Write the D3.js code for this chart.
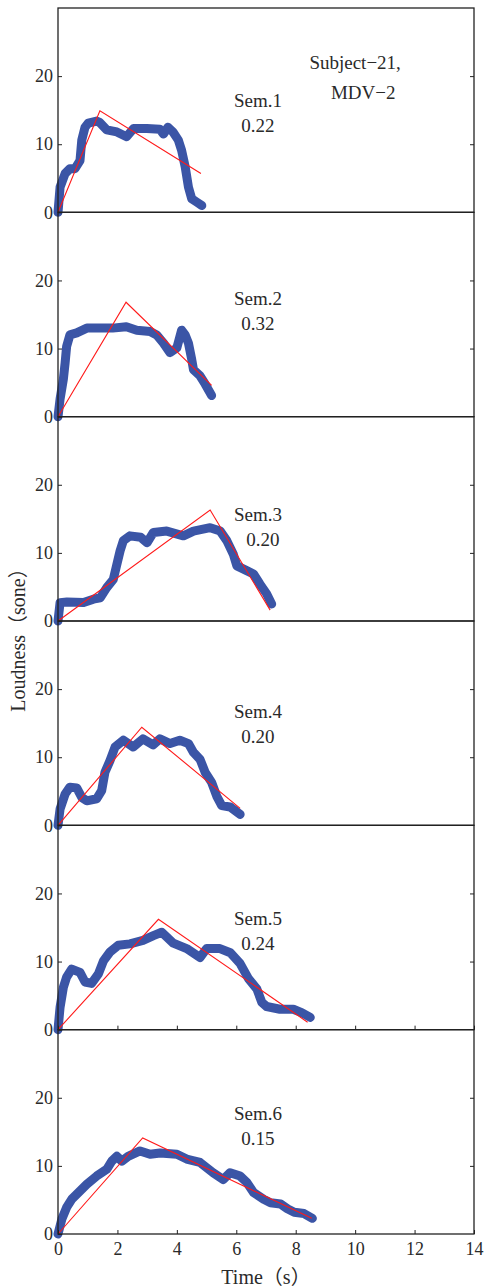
<!DOCTYPE html>
<html>
<head>
<meta charset="utf-8">
<script src="https://cdn.jsdelivr.net/npm/d3@7"></script>
<style>
  body { margin: 0; background: #fff; }
  text { font-family: "Liberation Serif", "Noto Sans CJK SC", serif; fill: #2a2a2a; }
</style>
</head>
<body>
<div id="chart-area"></div>
<script>
// Labels and ticks
var semNames = ["Sem.1", "Sem.2", "Sem.3", "Sem.4", "Sem.5", "Sem.6"];
var semScores = ["0.22", "0.32", "0.20", "0.20", "0.24", "0.15"];
var xTicks = [0, 2, 4, 6, 8, 10, 12, 14];
var yTicks = [0, 10, 20];

// Measured loudness, [time s, sone]
var loud1 = [[0,0],[0.07,3.7],[0.24,5.7],[0.4,6.4],[0.57,6.4],[0.74,7.6],[0.8,10.6],[0.91,12.5],[1.02,13.1],[1.3,13.4],[1.4,13.2],[1.64,12.1],[1.98,11.8],[2.31,11.1],[2.54,12.3],[2.99,12.3],[3.43,12.2],[3.55,11.5],[3.7,12.5],[3.87,11.8],[4.05,10.6],[4.16,9.1],[4.28,6.7],[4.39,3.7],[4.5,2.0],[4.67,1.5],[4.84,1.0]];
var loud2 = [[0,0],[0.07,2.6],[0.18,5.5],[0.24,7.9],[0.29,10.3],[0.4,12.0],[0.63,12.3],[0.97,13.0],[1.4,13.0],[1.84,13.0],[2.3,13.2],[2.65,12.7],[3.1,12.5],[3.32,12.0],[3.55,10.8],[3.77,9.4],[4.0,10.1],[4.16,12.7],[4.28,12.0],[4.39,10.8],[4.5,8.4],[4.56,6.9],[4.78,6.0],[4.95,4.8],[5.17,3.1]];
var loud3 = [[0,0],[0.07,2.7],[0.3,2.8],[0.86,2.7],[1.19,3.2],[1.42,3.4],[1.64,4.9],[1.86,6.1],[1.98,8.3],[2.09,10.3],[2.2,11.8],[2.42,12.5],[2.78,12.3],[3.0,11.5],[3.21,13.0],[3.66,13.2],[4.22,12.5],[4.56,13.2],[5.12,13.7],[5.46,13.2],[5.68,11.8],[5.9,9.8],[6.02,8.1],[6.35,7.4],[6.58,6.9],[6.8,5.4],[7.02,4.0],[7.19,2.5]];
var loud4 = [[0,0],[0.07,2.4],[0.24,4.6],[0.4,5.6],[0.63,5.5],[0.8,4.1],[0.97,3.6],[1.3,3.9],[1.47,5.1],[1.58,7.8],[1.75,9.5],[1.92,11.5],[2.2,12.5],[2.53,11.5],[2.86,12.7],[3.2,11.8],[3.43,12.7],[3.77,12.0],[4.1,12.5],[4.39,12.0],[4.56,10.7],[4.78,9.7],[4.95,7.8],[5.17,6.3],[5.34,4.3],[5.51,2.9],[5.79,2.7],[6.13,1.6]];
var loud5 = [[0,0],[0.07,3.3],[0.18,6.2],[0.29,7.7],[0.46,8.9],[0.74,8.4],[0.91,7.0],[1.13,6.8],[1.36,8.2],[1.53,10.1],[1.75,11.4],[2.03,12.4],[2.42,12.6],[2.86,13.1],[3.21,13.8],[3.49,14.3],[3.66,13.6],[3.88,12.7],[4.33,11.9],[4.78,10.6],[5.0,11.9],[5.45,11.9],[5.8,11.3],[6.13,9.7],[6.41,7.5],[6.69,6.0],[6.86,4.0],[7.02,3.4],[7.47,3.0],[7.92,3.0],[8.2,2.5],[8.49,1.8]];
var loud6 = [[0,0],[0.13,2.2],[0.29,3.9],[0.46,5.1],[0.69,6.1],[0.97,7.3],[1.3,8.5],[1.64,9.5],[1.81,10.7],[1.98,11.4],[2.15,10.7],[2.36,11.4],[2.76,12.2],[3.1,11.7],[3.44,11.9],[4.0,11.7],[4.33,11.0],[4.78,10.5],[5.22,9.0],[5.56,8.0],[5.79,9.0],[6.13,8.5],[6.35,7.6],[6.58,6.1],[6.92,5.1],[7.15,4.6],[7.49,4.4],[7.72,3.7],[7.95,3.2],[8.28,3.0],[8.56,2.3]];

// Triangular fit, [time s, sone]
var fit1 = [[0,0],[1.41,14.9],[4.81,5.7]];
var fit2 = [[0,0],[2.29,16.8],[5.17,4.6]];
var fit3 = [[0,0],[5.12,16.3],[7.14,1.6]];
var fit4 = [[0,0],[2.82,14.4],[6.13,2.5]];
var fit5 = [[0,0],[3.38,16.2],[8.4,1.1]];
var fit6 = [[0,0],[2.85,14.1],[8.54,2.3]];

var loudData = [loud1, loud2, loud3, loud4, loud5, loud6];
var fitData = [fit1, fit2, fit3, fit4, fit5, fit6];

var margin = { left:58, right:11, top:8, bottom:53 },
    W = 485, H = 1287,
    width = W - margin.left - margin.right,
    panelH = (H - margin.top - margin.bottom) / 6;

var svg = d3.select("#chart-area")
    .append("svg")
    .attr("width", W)
    .attr("height", H);

var x = d3.scaleLinear().domain([0, 14]).range([0, width]);
var y = d3.scaleLinear().domain([0, 30]).range([panelH, 0]);

var line = d3.line()
    .x(function(d){ return x(d[0]); })
    .y(function(d){ return y(d[1]); });

// where the Sem label sits in each panel (data units)
var labelY = [16.5, 17.4, 15.7, 16.7, 16.3, 17.7];

loudData.forEach(function(loud, i) {
    var g = svg.append("g")
        .attr("transform", "translate(" + margin.left + "," + (margin.top + i * panelH) + ")");

    g.append("path")
        .attr("d", line(loud))
        .attr("fill", "none")
        .attr("stroke", "#3b55a6")
        .attr("stroke-width", 9)
        .attr("stroke-linejoin", "round")
        .attr("stroke-linecap", "round");

    g.append("path")
        .attr("d", line(fitData[i]))
        .attr("fill", "none")
        .attr("stroke", "#ff1a1a")
        .attr("stroke-width", 1.1);

    // left axis
    var yl = g.append("g")
        .call(d3.axisLeft(y).tickValues(yTicks).tickSizeInner(-4).tickSizeOuter(0).tickPadding(5));
    // right axis, ticks only
    var yr = g.append("g")
        .attr("transform", "translate(" + width + ",0)")
        .call(d3.axisRight(y).tickValues(yTicks.slice(1)).tickSizeInner(-4).tickSizeOuter(0).tickFormat(""));

    if (i >= 4) {
        var xa = g.append("g")
            .attr("transform", "translate(0," + panelH + ")")
            .call(d3.axisBottom(x).tickValues(xTicks).tickSizeInner(-4).tickSizeOuter(0).tickPadding(8)
                .tickFormat(i == 5 ? d3.format("d") : ""));
        xa.select(".domain").remove();
        xa.selectAll("text").attr("font-size", "18px").attr("font-family", null);
        xa.selectAll("line").attr("stroke", "#222");
    }

    [yl, yr].forEach(function(a){
        a.select(".domain").remove();
        a.selectAll("line").attr("stroke", "#222");
        a.selectAll("text").attr("font-size", "18px").attr("font-family", null);
    });

    g.append("rect")
        .attr("width", width)
        .attr("height", panelH)
        .attr("fill", "none")
        .attr("stroke", "#222")
        .attr("stroke-width", 1.3);

    g.append("text")
        .attr("x", x(6.73))
        .attr("y", y(labelY[i]))
        .attr("dy", "0.35em")
        .attr("text-anchor", "middle")
        .attr("font-size", "19px")
        .text(semNames[i]);

    g.append("text")
        .attr("x", x(6.73) + (i == 2 ? 5 : 0))
        .attr("y", y(labelY[i]) + 25)
        .attr("dy", "0.35em")
        .attr("text-anchor", "middle")
        .attr("font-size", "19px")
        .text(semScores[i]);

    if (i == 0) {
        g.append("text")
            .attr("x", x(10.0))
            .attr("y", y(22.0))
            .attr("dy", "0.35em")
            .attr("text-anchor", "middle")
            .attr("font-size", "19px")
            .text("Subject\u221221,");
        g.append("text")
            .attr("x", x(10.27))
            .attr("y", y(17.6))
            .attr("dy", "0.35em")
            .attr("text-anchor", "middle")
            .attr("font-size", "19px")
            .text("MDV\u22122");
    }
});

// Axis labels
svg.append("text")
    .attr("transform", "rotate(-90)")
    .attr("x", -635)
    .attr("y", 18)
    .attr("dy", "0.35em")
    .attr("text-anchor", "middle")
    .attr("font-size", "20px")
    .text("Loudness\uFF08sone\uFF09");

svg.append("text")
    .attr("x", margin.left + width / 2)
    .attr("y", 1277)
    .attr("dy", "0.35em")
    .attr("text-anchor", "middle")
    .attr("font-size", "20px")
    .text("Time\uFF08s\uFF09");
</script>
</body>
</html>
